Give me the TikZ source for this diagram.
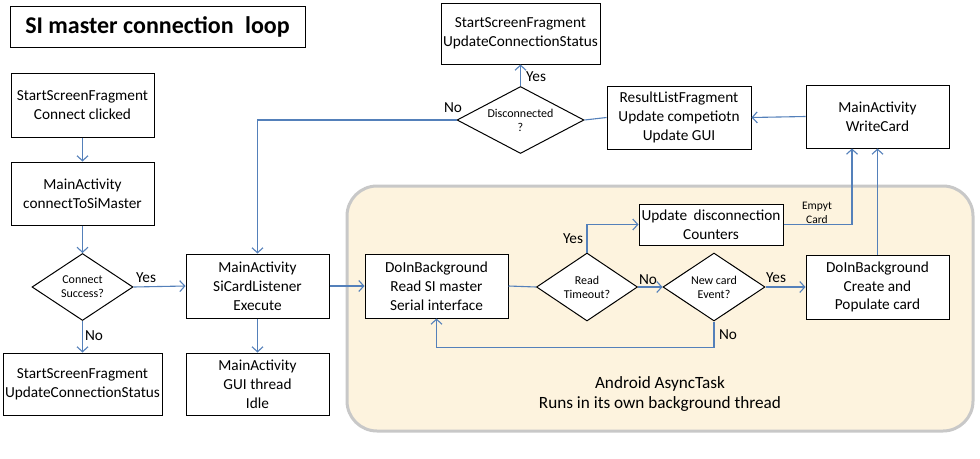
\documentclass[tikz,border=0pt]{standalone}
\usepackage{fontspec}
\setmainfont{Carlito}
\usetikzlibrary{shapes.geometric,arrows.meta}
\definecolor{lineblue}{RGB}{84,128,186}
\definecolor{asyncfill}{RGB}{253,243,222}
\definecolor{asyncborder}{RGB}{200,200,200}
\begin{document}
\begin{tikzpicture}[x=1pt,y=-1pt,
  box/.style={draw=black,line width=1pt,fill=white,align=center,font=\fontsize{15.3}{18.8}\selectfont,inner sep=0pt},
  dia/.style={draw=black,line width=1pt,fill=white,diamond,aspect=1.5,align=center,inner sep=0pt,font=\fontsize{12}{14}\selectfont},
  conn/.style={draw=lineblue,line width=1.1pt,-{Straight Barb[length=5pt,width=11pt]}},
  plainconn/.style={draw=lineblue,line width=1.1pt},
  lbl/.style={font=\fontsize{15.3}{18}\selectfont,inner sep=0pt},
  small/.style={font=\fontsize{11.5}{13.5}\selectfont,inner sep=0pt,align=center}]
\fill[white] (0,0) rectangle (980,458);
\useasboundingbox (0,0) rectangle (980,458);

% async task region
\draw[asyncborder,line width=3pt,fill=asyncfill,rounded corners=30pt] (347,186) rectangle (973,431);
\node[font=\fontsize{17.2}{19.5}\selectfont,align=center] (async) at (660,394) {Android AsyncTask\\Runs in its own background thread};

% title
\node[box,font=\fontsize{24}{28}\selectfont\bfseries,minimum width=295pt,minimum height=41pt] (title) at (157.5,26.5) {SI master connection\hspace{0.25em} loop};

% left column
\node[box,minimum width=143pt,minimum height=64pt] (b1) at (82.5,105) {StartScreenFragment\\Connect clicked};
\node[box,minimum width=143pt,minimum height=63pt] (b2) at (82.5,193.5) {MainActivity\\connectToSiMaster};
\node[dia,minimum width=101pt,minimum height=67pt] (d1) at (82.5,287) {Connect\\Success?};
\node[box,minimum width=159pt,minimum height=62pt] (b3) at (82.5,384) {StartScreenFragment\\UpdateConnectionStatus};
\node[box,minimum width=143pt,minimum height=64pt] (b4) at (257.5,286) {MainActivity\\SiCardListener\\Execute};
\node[box,minimum width=143pt,minimum height=62pt] (b5) at (257.5,384) {MainActivity\\GUI thread\\Idle};

% top row
\node[box,minimum width=159pt,minimum height=61pt] (b6) at (520.5,33.5) {StartScreenFragment\\UpdateConnectionStatus};
\node[dia,minimum width=127pt,minimum height=67pt] (d2) at (520.5,120) {Disconnected\\?};
\node[box,minimum width=144pt,minimum height=63pt] (b7) at (679,117.5) {ResultListFragment\\Update competiotn\\Update GUI};
\node[box,minimum width=143pt,minimum height=63pt] (b8) at (877.5,116.5) {MainActivity\\WriteCard};

% async contents
\node[box,minimum width=143pt,minimum height=64pt] (b9) at (436.5,286) {DoInBackground\\Read SI master\\Serial interface};
\node[dia,minimum width=101pt,minimum height=68pt] (d3) at (587,287) {Read\\Timeout?};
\node[box,minimum width=144pt,minimum height=41pt] (b10) at (711,224.5) {Update\hspace{0.2em} disconnection\\Counters};
\node[dia,minimum width=102pt,minimum height=68pt] (d4) at (714,287) {New card\\Event?};
\node[box,minimum width=143pt,minimum height=64pt] (b11) at (877.5,287) {DoInBackground\\Create and\\Populate card};

% connectors
\draw[conn] (b1.south) -- (b2.north);
\draw[conn] (b2.south) -- (d1.north);
\draw[conn] (d1.east) -- (b4.west);
\node[lbl] (yes1) at (146,278) {Yes};
\draw[conn] (d1.south) -- (b3.north);
\node[lbl] (no1) at (94,336) {No};
\draw[conn] (b4.south) -- (b5.north);
\draw[conn] (b4.east) -- (b9.west);
\draw[plainconn] (b9.east) -- (d3.west);
\draw[conn] (d3.north) |- (b10.west);
\node[lbl] (yes2) at (573,239) {Yes};
\draw[conn] (d3.east) -- (d4.west);
\node[lbl] (no2) at (648,280) {No};
\draw[conn] (d4.east) -- (b11.west);
\node[lbl] (yes3) at (776,278) {Yes};
\draw[conn] (d4.south) -- ++(0,26) -| (b9.south);
\node[lbl] (no3) at (728,335) {No};
\draw[conn] (b10.east) -| ([xshift=-25.5pt]b8.south);
\node[small] (empty) at (817,213) {Empyt\\Card};
\draw[conn] (b11.north) -- (b8.south);
\draw[conn] (b8.west) -- (b7.east);
\draw[plainconn] (b7.west) -- (d2.east);
\draw[conn] (d2.north) -- (b6.south);
\node[lbl] (yes4) at (536,77) {Yes};
\draw[conn] (d2.west) -- (b4.north |- d2.west) -- (b4.north);
\node[lbl] (no4) at (453,108) {No};
\end{tikzpicture}
\end{document}
